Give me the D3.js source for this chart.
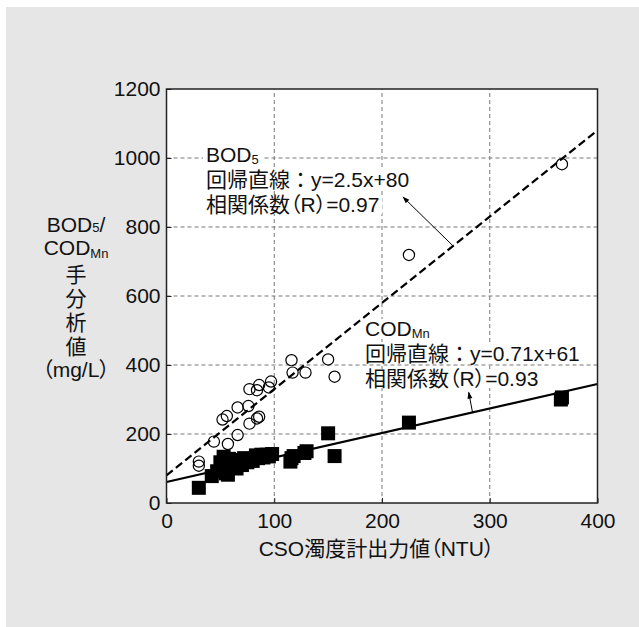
<!DOCTYPE html>
<html><head><meta charset="utf-8">
<script src="https://cdn.jsdelivr.net/npm/d3@7"></script>
<style>
html,body{margin:0;padding:0;background:#fff;}
svg text{font-family:"Liberation Sans","Noto Sans CJK JP",sans-serif;fill:#111;}
.p{font-feature-settings:"palt" 1;}
</style></head>
<body>
<svg id="c" width="639" height="627"></svg>
<script>
// ---- data ----
const xTicks = [0, 100, 200, 300, 400];
const yTicks = [0, 200, 400, 600, 800, 1000, 1200];
const xGrid = [100, 200, 300];
const yGrid = [200, 400, 600, 800, 1000];
const bodPoints = [
  [30,120],[30,108],[44,178],[57,171],[66,197],[77,230],[84,245],[86,250],
  [52,242],[56,252],[66,277],[76,281],[77,330],[84,327],[86,342],[95,335],
  [97,352],[116,414],[117,378],[129,378],[150,416],[156,366],[225,719],[367,982]
];
const codPoints = [
  [30,44],[42,78],[47,92],[50,118],[53,134],[53,100],[55,86],[57,82],[58,128],
  [60,110],[62,118],[65,100],[67,125],[70,110],[72,130],[75,118],[78,128],[80,122],
  [83,138],[85,130],[88,140],[90,132],[93,140],[95,135],[98,142],[115,120],[116,130],
  [118,136],[128,145],[130,150],[150,202],[156,136],[225,233],[367,306],[366,300]
];
const bodFit = {slope: 2.5, intercept: 80};
const codFit = {slope: 0.71, intercept: 61};
const bodLabel = ["BOD", "5", "回帰直線：y=2.5x+80", "相関係数（R）=0.97"];
const codLabel = ["COD", "Mn", "回帰直線：y=0.71x+61", "相関係数（R）=0.93"];
const xTitle = "CSO濁度計出力値（NTU）";
const yTitleLines = ["手", "分", "析", "値", "（mg/L）"];

// ---- helpers ----
// write a string into a text element; full-width parentheses get proportional widths
function rich(t, s){
  s.split(/([（）])/).filter(p=>p.length).forEach(p=>{
    const sp = t.append("tspan").text(p);
    if (p==="（"||p==="）") sp.attr("class","p");
  });
  return t;
}

// ---- layout ----
const svg = d3.select("#c");
svg.append("rect").attr("x",6).attr("y",7).attr("width",633).attr("height",620).attr("fill","#e6e6e6");

const x = d3.scaleLinear().domain([0,400]).range([166.5,597.5]);
const y = d3.scaleLinear().domain([0,1200]).range([503,89]);

svg.append("rect").attr("x",x(0)).attr("y",y(1200)).attr("width",x(400)-x(0)).attr("height",y(0)-y(1200)).attr("fill","#fff");

const g = svg.append("g");
g.selectAll(".gx").data(xGrid).join("line")
  .attr("x1",d=>x(d)).attr("x2",d=>x(d)).attr("y1",y(0)).attr("y2",y(1200))
  .attr("stroke","#777").attr("stroke-width",1).attr("stroke-dasharray","4,3");
g.selectAll(".gy").data(yGrid).join("line")
  .attr("y1",d=>y(d)).attr("y2",d=>y(d)).attr("x1",x(0)).attr("x2",x(400))
  .attr("stroke","#777").attr("stroke-width",1).attr("stroke-dasharray","4,3");

const ax = svg.append("g").attr("transform",`translate(0,${y(0)})`)
  .call(d3.axisBottom(x).tickValues(xTicks).tickFormat(d3.format("d")).tickSize(-5).tickPadding(10));
const ay = svg.append("g").attr("transform",`translate(${x(0)},0)`)
  .call(d3.axisLeft(y).tickValues(yTicks).tickFormat(d3.format("d")).tickSize(-5).tickPadding(6));
[ax,ay].forEach(a=>{
  a.select(".domain").remove();
  a.selectAll(".tick line").attr("stroke","#222");
  a.selectAll(".tick text").attr("font-size",21).attr("fill","#111")
    .attr("font-family",'"Liberation Sans",sans-serif');
});

const fitLine = f => [[0, f.intercept],[400, f.slope*400+f.intercept]];
const line = d3.line().x(d=>x(d[0])).y(d=>y(d[1]));
svg.append("path").attr("d",line(fitLine(bodFit))).attr("fill","none")
  .attr("stroke","#000").attr("stroke-width",2.2).attr("stroke-dasharray","8,4");
svg.append("path").attr("d",line(fitLine(codFit))).attr("fill","none")
  .attr("stroke","#000").attr("stroke-width",2.2);

svg.append("g").selectAll("rect").data(codPoints).join("rect")
  .attr("x",d=>x(d[0])-7).attr("y",d=>y(d[1])-7).attr("width",14).attr("height",14).attr("fill","#000");
svg.append("g").selectAll("circle").data(bodPoints).join("circle")
  .attr("cx",d=>x(d[0])).attr("cy",d=>y(d[1])).attr("r",5.6)
  .attr("fill","none").attr("stroke","#000").attr("stroke-width",1.2);

const FS = 21;
function block(lbl, x0, b0){
  const gg = svg.append("g");
  const lines = [];
  const t1 = gg.append("text").attr("x",x0).attr("y",b0).attr("font-size",FS);
  t1.append("tspan").text(lbl[0]);
  t1.append("tspan").attr("font-size",13).attr("dy",2).text(lbl[1]);
  lines.push(t1);
  lines.push(rich(gg.append("text").attr("x",x0).attr("y",b0+25).attr("font-size",FS), lbl[2]));
  lines.push(rich(gg.append("text").attr("x",x0).attr("y",b0+50).attr("font-size",FS), lbl[3]));
  lines.forEach(t=>{
    const bb = t.node().getBBox();
    gg.insert("rect","text").attr("x",bb.x-3).attr("y",bb.y+2).attr("width",bb.width+6).attr("height",bb.height-4).attr("fill","#fff");
  });
}
block(bodLabel, 206, 162);
block(codLabel, 365, 336);

const defs = svg.append("defs");
defs.append("marker").attr("id","ah").attr("viewBox","0 0 10 10").attr("refX",9).attr("refY",5)
  .attr("markerWidth",9).attr("markerHeight",7).attr("orient","auto").attr("markerUnits","userSpaceOnUse")
  .append("path").attr("d","M0,1.5 L10,5 L0,8.5 Z").attr("fill","#000");
const arrows = [
  {from:[266, bodFit.slope*266+bodFit.intercept], to:[219.5, 887]},
  {from:[284, codFit.slope*284+codFit.intercept], to:[280.5, 321]}
];
svg.append("g").selectAll("line").data(arrows).join("line")
  .attr("x1",d=>x(d.from[0])).attr("y1",d=>y(d.from[1]))
  .attr("x2",d=>x(d.to[0])).attr("y2",d=>y(d.to[1]))
  .attr("stroke","#000").attr("stroke-width",1).attr("marker-end","url(#ah)");

svg.append("rect").attr("x",x(0)).attr("y",y(1200)).attr("width",x(400)-x(0)).attr("height",y(0)-y(1200))
  .attr("fill","none").attr("stroke","#222").attr("stroke-width",1.5);

// axis titles
const xt = svg.append("text").attr("x",376.5).attr("y",556).attr("text-anchor","middle").attr("font-size",21);
rich(xt, xTitle);
const yt = svg.append("g");
const l1 = yt.append("text").attr("x",76).attr("y",232).attr("text-anchor","middle").attr("font-size",21);
l1.append("tspan").text("BOD"); l1.append("tspan").attr("font-size",13).text("5"); l1.append("tspan").text("/");
const l2 = yt.append("text").attr("x",76).attr("y",255).attr("text-anchor","middle").attr("font-size",21);
l2.append("tspan").text("COD"); l2.append("tspan").attr("font-size",13).attr("dy",3).text("Mn");
const yb = [282, 306, 330, 354, 377];
yTitleLines.forEach((s,i)=>{
  rich(yt.append("text").attr("x",76).attr("y",yb[i]).attr("text-anchor","middle").attr("font-size",21), s);
});
</script>
</body></html>
